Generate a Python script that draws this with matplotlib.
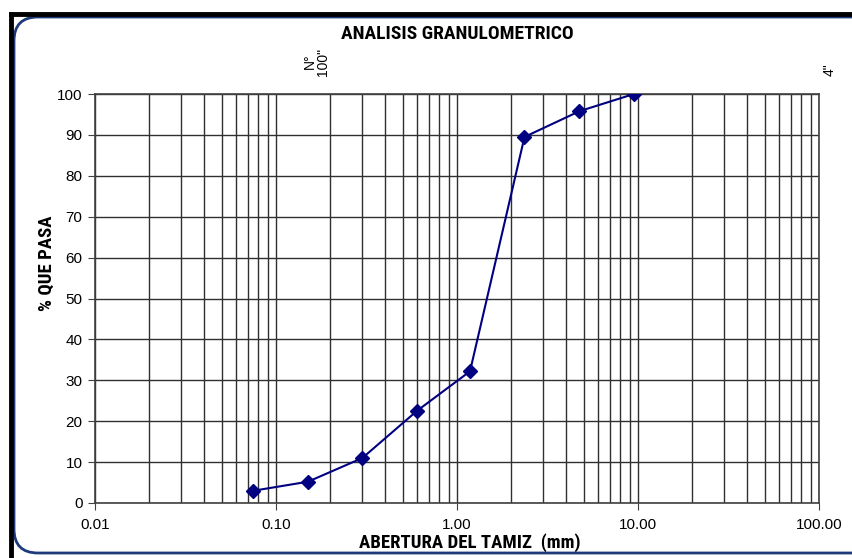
import matplotlib
matplotlib.use("Agg")
import matplotlib.pyplot as plt
from matplotlib.patches import FancyBboxPatch
from matplotlib.lines import Line2D
from matplotlib.transforms import IdentityTransform
from matplotlib.ticker import FixedLocator, NullFormatter

aberturas = [0.075, 0.15, 0.30, 0.60, 1.18, 2.36, 4.75, 9.50]
pasa = [3.0, 5.2, 11.0, 22.5, 32.2, 89.5, 95.8, 100.0]
xticks = [0.01, 0.1, 1, 10, 100]
xtick_labels = ["0.01", "0.10", "1.00", "10.00", "100.00"]
yticks = list(range(0, 101, 10))
tamices = [(0.15, 'N°\n100"'), (101.6, '4"')]

plt.rcParams['font.family'] = ['Liberation Sans', 'DejaVu Sans']
NARROW = ['Roboto Condensed', 'PT Sans Narrow', 'Liberation Sans', 'DejaVu Sans']

W, H = 853, 558
fig = plt.figure(figsize=(W / 100, H / 100), dpi=100)

# outer frame
fig.add_artist(Line2D([11 / W, 11 / W], [0, 1 - 14 / H], color='black', lw=3.5,
                      transform=fig.transFigure))
fig.add_artist(Line2D([11 / W, 1], [1 - 14 / H, 1 - 14 / H], color='black', lw=3.5,
                      transform=fig.transFigure))
box = FancyBboxPatch((14, 5), W + 40, H - 22,
                     boxstyle="round,pad=0,rounding_size=24",
                     transform=IdentityTransform(), fill=False,
                     edgecolor='#1f3a7a', lw=2)
fig.add_artist(box)

ax = fig.add_axes([95 / W, 1 - 503 / H, (819 - 95) / W, (503 - 94) / H])
ax.set_xscale('log')
ax.set_xlim(0.01, 100)
ax.set_ylim(0, 100)

minor = [m * 10.0 ** e for e in range(-2, 2) for m in range(2, 10)]
ax.xaxis.set_major_locator(FixedLocator(xticks))
ax.xaxis.set_minor_locator(FixedLocator(minor))
ax.xaxis.set_minor_formatter(NullFormatter())
ax.set_xticks(xticks)
ax.set_xticklabels(xtick_labels, fontsize=11)
ax.set_yticks(yticks)
ax.set_yticklabels([str(v) for v in yticks], fontsize=11)
ax.tick_params(axis='x', which='major', length=5, color='#404040', pad=6)
ax.tick_params(axis='x', which='minor', length=0)
ax.tick_params(axis='y', length=5, color='#404040', pad=4)

ax.grid(True, which='both', axis='x', color='#303030', lw=1)
ax.grid(True, which='major', axis='y', color='#303030', lw=1)
for s in ax.spines.values():
    s.set_color('#404040')
    s.set_linewidth(1.2)

ax.plot(aberturas, pasa, color='#000080', lw=1.5, marker='D', markersize=7,
        markerfacecolor='#000080', markeredgecolor='#000080', zorder=5)

for xv, lab in tamices:
    ax.text(xv * 1.12, 104.5, lab, rotation=90, ha='center', va='bottom',
            fontsize=10, linespacing=0.9, clip_on=False)

fig.text(457 / W, 1 - 34 / H, 'ANALISIS GRANULOMETRICO', ha='center', va='center',
         fontsize=14, fontweight='bold', family=NARROW)
fig.text(470 / W, 1 - 543 / H, 'ABERTURA DEL TAMIZ  (mm)', ha='center', va='center',
         fontsize=13.5, fontweight='bold', family=NARROW)
fig.text(47 / W, 1 - 263 / H, '% QUE PASA', ha='center', va='center', rotation=90,
         fontsize=13.5, fontweight='bold', family=NARROW)

fig.savefig('out.png', dpi=100)
